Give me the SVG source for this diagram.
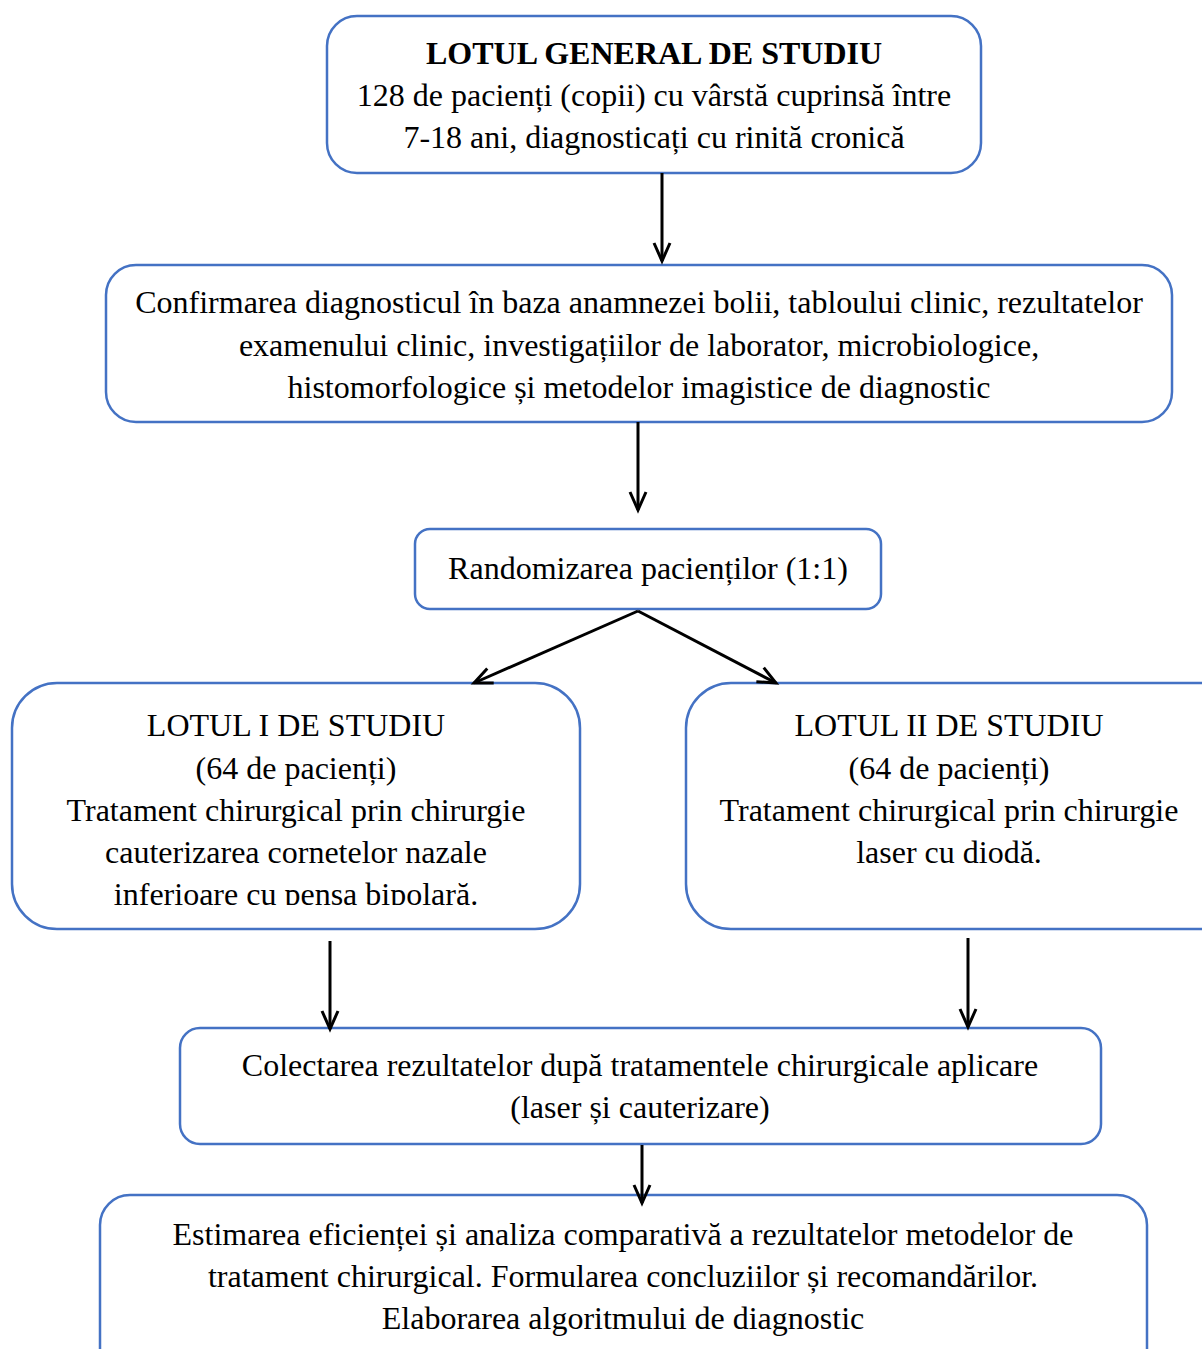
<svg xmlns="http://www.w3.org/2000/svg" width="1202" height="1349" viewBox="0 0 1202 1349">
<style>
.box{fill:#fff;stroke:#4472C4;stroke-width:2.5}
.t{font-family:"Liberation Serif","Times New Roman",serif;font-size:32px;fill:#000;text-anchor:middle}
.b{font-weight:bold}
.c{stroke:#000;stroke-width:3;fill:none}
</style>
<defs>
<marker id="ah" markerUnits="userSpaceOnUse" markerWidth="24" markerHeight="24" refX="20" refY="10" orient="auto" viewBox="0 0 24 20">
<path d="M2,2 L20,10 L2,18" fill="none" stroke="#000" stroke-width="3"/>
</marker>
<clipPath id="clipL"><rect x="12" y="683" width="568" height="222"/></clipPath>
</defs>
<rect width="1202" height="1349" fill="#fff"/>
<g id="n1">
<rect class="box" x="327" y="16" width="654" height="157" rx="30"/>
<text class="t b" x="654" y="64">LOTUL GENERAL DE STUDIU</text>
<text class="t" x="654" y="106">128 de pacienți (copii) cu vârstă cuprinsă între</text>
<text class="t" x="654" y="148">7-18 ani, diagnosticați cu rinită cronică</text>
</g>
<g id="n2">
<rect class="box" x="106" y="265" width="1066" height="157" rx="30"/>
<text class="t" x="639" y="313">Confirmarea diagnosticul în baza anamnezei bolii, tabloului clinic, rezultatelor</text>
<text class="t" x="639" y="356">examenului clinic, investigațiilor de laborator, microbiologice,</text>
<text class="t" x="639" y="398">histomorfologice și metodelor imagistice de diagnostic</text>
</g>
<g id="n3">
<rect class="box" x="415" y="529" width="466" height="80" rx="15"/>
<text class="t" x="648" y="579">Randomizarea pacienților (1:1)</text>
</g>
<g id="n4">
<rect class="box" x="12" y="683" width="568" height="246" rx="45"/>
<g clip-path="url(#clipL)">
<text class="t" x="296" y="736">LOTUL I DE STUDIU</text>
<text class="t" x="296" y="779">(64 de pacienți)</text>
<text class="t" x="296" y="821">Tratament chirurgical prin chirurgie</text>
<text class="t" x="296" y="863">cauterizarea cornetelor nazale</text>
<text class="t" x="296" y="905">inferioare cu pensa bipolară.</text>
</g>
</g>
<g id="n5">
<rect class="box" x="686" y="683" width="560" height="246" rx="45"/>
<text class="t" x="949" y="736">LOTUL II DE STUDIU</text>
<text class="t" x="949" y="779">(64 de pacienți)</text>
<text class="t" x="949" y="821">Tratament chirurgical prin chirurgie</text>
<text class="t" x="949" y="863">laser cu diodă.</text>
</g>
<g id="n6">
<rect class="box" x="180" y="1028" width="921" height="116" rx="20"/>
<text class="t" x="640" y="1076">Colectarea rezultatelor după tratamentele chirurgicale aplicare</text>
<text class="t" x="640" y="1118">(laser și cauterizare)</text>
</g>
<g id="n7">
<rect class="box" x="100" y="1195" width="1047" height="200" rx="30"/>
<text class="t" x="623" y="1245">Estimarea eficienței și analiza comparativă a rezultatelor metodelor de</text>
<text class="t" x="623" y="1287">tratament chirurgical. Formularea concluziilor și recomandărilor.</text>
<text class="t" x="623" y="1329">Elaborarea algoritmului de diagnostic</text>
</g>
<g id="connectors">
<line class="c" x1="662" y1="173" x2="662" y2="261" marker-end="url(#ah)"/>
<line class="c" x1="638" y1="422" x2="638" y2="510" marker-end="url(#ah)"/>
<line class="c" x1="638" y1="611" x2="474" y2="683" marker-end="url(#ah)"/>
<line class="c" x1="638" y1="611" x2="776" y2="683" marker-end="url(#ah)"/>
<line class="c" x1="330" y1="941" x2="330" y2="1029" marker-end="url(#ah)"/>
<line class="c" x1="968" y1="938" x2="968" y2="1027" marker-end="url(#ah)"/>
<line class="c" x1="642" y1="1145" x2="642" y2="1203" marker-end="url(#ah)"/>
</g>
</svg>
